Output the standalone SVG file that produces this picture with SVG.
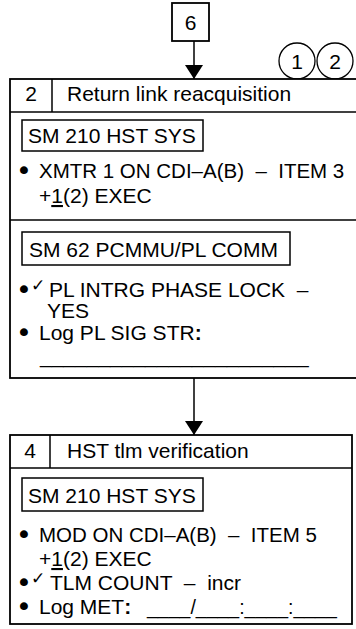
<svg xmlns="http://www.w3.org/2000/svg" width="356" height="629" viewBox="0 0 356 629">
<style>
text { font-family: "Liberation Sans", Arial, sans-serif; font-size: 21px; fill: #000; white-space: pre; }
.bul { text-anchor: middle; stroke: #000; stroke-width: 2.2; }
.chk { font-family: "DejaVu Sans", sans-serif; font-size: 17px; }
.mid { text-anchor: middle; }
.box { fill: #fff; stroke: #000; stroke-width: 1.8; }
.sub { fill: #fff; stroke: #000; stroke-width: 1.5; }
.ln { stroke: #000; stroke-width: 1.5; fill: none; }
.b { font-weight: bold; }
.blank { font-size: 19.5px; }
.long { font-size: 20.5px; }
</style>
<defs>
<marker id="ah" viewBox="0 0 14 18" refX="14" refY="9" markerWidth="14" markerHeight="18" markerUnits="userSpaceOnUse" orient="auto">
<path d="M0,0 L14,9 L0,18 z" fill="#000"/>
</marker>
</defs>

<g id="connectors">
<line class="ln" x1="194" y1="41" x2="194" y2="79" marker-end="url(#ah)"/>
<line class="ln" x1="194" y1="378" x2="194" y2="435" marker-end="url(#ah)"/>
</g>

<g id="node-6">
<rect class="box" x="172" y="3" width="37" height="38"/>
<text class="mid" x="190.5" y="30">6</text>
</g>

<g id="node-circles">
<circle cx="297" cy="61" r="18" fill="#fff" stroke="#000" stroke-width="1.3"/>
<circle cx="335" cy="61" r="18" fill="#fff" stroke="#000" stroke-width="1.3"/>
<text class="mid" x="297" y="68.5">1</text>
<text class="mid" x="335" y="68.5">2</text>
</g>

<g id="node-step2">
<rect class="box" x="10" y="79" width="350" height="299"/>
<line class="ln" x1="10" y1="112" x2="360" y2="112"/>
<line class="ln" x1="52" y1="79" x2="52" y2="112"/>
<text class="mid" x="31" y="101">2</text>
<text x="67" y="101">Return link reacquisition</text>
<rect class="sub" x="22" y="120" width="181" height="31"/>
<text x="28" y="143">SM 210 HST SYS</text>
<text class="bul" x="24" y="177">•</text>
<text class="long" x="39" y="178">XMTR 1 ON CDI–A(B)  –  ITEM 3</text>
<text x="39" y="203">+<tspan text-decoration="underline">1</tspan>(2) EXEC</text>
<line class="ln" x1="10" y1="220" x2="360" y2="220"/>
<rect class="sub" x="22" y="232" width="268" height="33"/>
<text x="29" y="257">SM 62 PCMMU/PL COMM</text>
<text class="bul" x="24" y="296">•</text>
<text class="chk" x="31" y="291">✓</text>
<text x="49" y="297">PL INTRG PHASE LOCK  –</text>
<text x="47" y="318">YES</text>
<text class="bul" x="24" y="339">•</text>
<text x="39" y="340">Log PL SIG STR<tspan class="b">:</tspan></text>
<text x="40" y="363">_______________________</text>
</g>

<g id="node-step4">
<rect class="box" x="10" y="435" width="342" height="189"/>
<line class="ln" x1="10" y1="468" x2="352" y2="468"/>
<line class="ln" x1="50" y1="435" x2="50" y2="468"/>
<text class="mid" x="30" y="458">4</text>
<text x="67" y="458">HST tlm verification</text>
<rect class="sub" x="22" y="478" width="181" height="33"/>
<text x="28" y="503">SM 210 HST SYS</text>
<text class="bul" x="24" y="541">•</text>
<text class="long" x="39" y="542">MOD ON CDI–A(B)  –  ITEM 5</text>
<text x="39" y="566">+<tspan text-decoration="underline">1</tspan>(2) EXEC</text>
<text class="bul" x="24" y="589">•</text>
<text class="chk" x="31" y="584">✓</text>
<text x="50" y="590">TLM COUNT  –  incr</text>
<text class="bul" x="24" y="613">•</text>
<text x="39" y="614">Log MET<tspan class="b">:</tspan></text>
<text class="blank" x="147" y="614">____/____:____:____</text>
</g>
</svg>
